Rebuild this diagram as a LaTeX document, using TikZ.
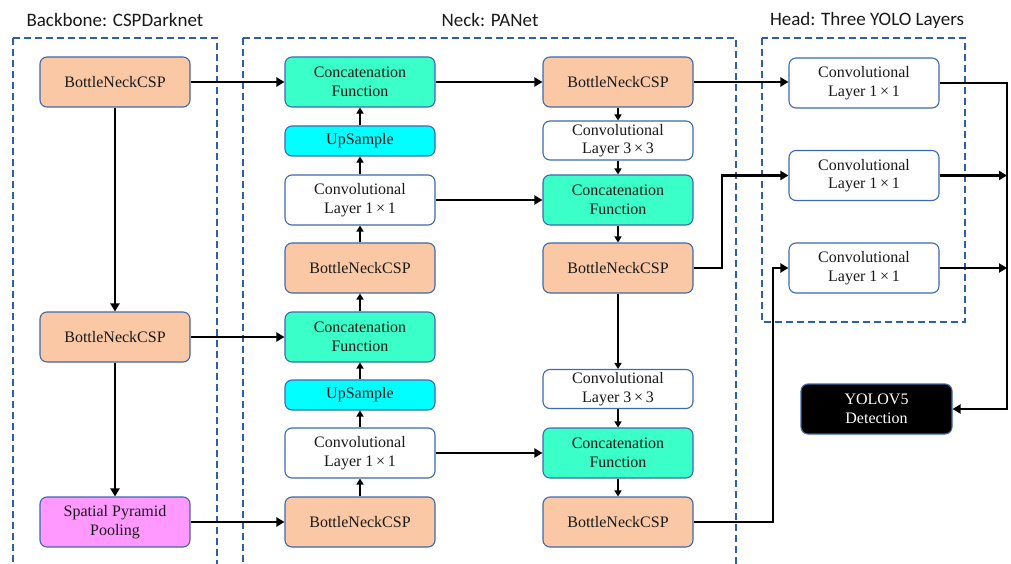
\documentclass[tikz,border=0pt]{standalone}
\usepackage{fontspec}
\setmainfont{Liberation Serif}
\newfontfamily\headfont{Carlito}
\usetikzlibrary{arrows.meta}

\definecolor{peach}{RGB}{250,200,165}
\definecolor{mint}{RGB}{58,255,200}
\definecolor{aqua}{RGB}{0,255,255}
\definecolor{orchid}{RGB}{255,153,255}
\definecolor{edge}{RGB}{60,105,175}
\definecolor{frame}{RGB}{46,95,168}
\definecolor{ink}{RGB}{25,25,25}

\tikzset{
  blk/.style={rounded corners=7pt, draw=edge, line width=1.1pt, minimum width=150pt,
    minimum height=50pt, align=center, inner sep=0pt, text=ink,
    font=\fontsize{16}{18.5}\selectfont},
  bn/.style={blk, fill=peach},
  cat/.style={blk, fill=mint},
  ups/.style={blk, fill=aqua, minimum height=30pt},
  conv/.style={blk, fill=white},
  convsm/.style={blk, fill=white, minimum height=39pt},
  spp/.style={blk, fill=orchid},
  det/.style={blk, fill=black, text=white, minimum width=151pt},
  grp/.style={draw=frame, line width=1.5pt, dash pattern=on 7pt off 4pt},
  ttl/.style={font=\headfont\fontsize{19}{22}\selectfont, text=ink},
  main/.style={line width=2.6pt, -{Triangle[length=8pt,width=9pt]}},
  thin/.style={line width=2pt, -{Triangle[length=6pt,width=7pt]}}
}

\newcommand{\conv}[1]{Convolutional\\Layer #1\,\texttimes\,#1}

\begin{document}
\begin{tikzpicture}[x=1pt,y=-1pt]
\useasboundingbox (0,0) rectangle (1011,564);

% stage frames
\draw[grp] (13,38) -- (217,38) -- (217,570);
\draw[grp] (13,38) -- (13,570);
\draw[grp] (243,38) -- (736,38) -- (736,570);
\draw[grp] (243,38) -- (243,570);
\draw[grp] (762,38) rectangle (965,322);

% stage titles
\node[ttl, anchor=west] (t1) at (23,20) {Backbone: CSPDarknet};
\node[ttl] (t2) at (490,20) {Neck: PANet};
\node[ttl] (t3) at (867,20) {Head: Three YOLO Layers};

% backbone
\node[bn]  (b1) at (115,82)  {BottleNeckCSP};
\node[bn]  (b2) at (115,337) {BottleNeckCSP};
\node[spp] (b3) at (115,522) {Spatial Pyramid\\Pooling};

% neck, upward path
\node[cat]  (n1) at (360,82)  {Concatenation\\Function};
\node[ups]  (n2) at (360,141) {UpSample};
\node[conv] (n3) at (360,200) {\conv{1}};
\node[bn]   (n4) at (360,268) {BottleNeckCSP};
\node[cat]  (n5) at (360,337) {Concatenation\\Function};
\node[ups]  (n6) at (360,395) {UpSample};
\node[conv] (n7) at (360,453) {\conv{1}};
\node[bn]   (n8) at (360,522) {BottleNeckCSP};

% neck, downward path
\node[bn]     (m1) at (618,82)    {BottleNeckCSP};
\node[convsm] (m2) at (618,140.5) {\conv{3}};
\node[cat]    (m3) at (618,200)   {Concatenation\\Function};
\node[bn]     (m4) at (618,268)   {BottleNeckCSP};
\node[convsm] (m5) at (618,389)   {\conv{3}};
\node[cat]    (m6) at (618,453)   {Concatenation\\Function};
\node[bn]     (m7) at (618,522)   {BottleNeckCSP};

% head
\node[conv] (h1) at (864,83)    {\conv{1}};
\node[conv] (h2) at (864,175.5) {\conv{1}};
\node[conv] (h3) at (864,268)   {\conv{1}};
\node[det]  (d)  at (876.5,409) {YOLOV5\\Detection};

% routing points
\coordinate (j1) at (722,268);
\coordinate (j2) at (773,522);
\coordinate (rail) at (1007,409);

% backbone links
\draw[main] (b1) -- (b2);
\draw[main] (b2) -- (b3);
\draw[main] (b1) -- (n1);
\draw[main] (b2) -- (n5);
\draw[main] (b3) -- (n8);

% neck upward chain
\draw[thin] (n8) -- (n7);
\draw[thin] (n7) -- (n6);
\draw[thin] (n6) -- (n5);
\draw[thin] (n5) -- (n4);
\draw[thin] (n4) -- (n3);
\draw[thin] (n3) -- (n2);
\draw[thin] (n2) -- (n1);

% lateral links
\draw[main] (n1) -- (m1);
\draw[main] (n3) -- (m3);
\draw[main] (n7) -- (m6);

% neck downward chain
\draw[thin] (m1) -- (m2);
\draw[thin] (m2) -- (m3);
\draw[thin] (m3) -- (m4);
\draw[thin] (m4) -- (m5);
\draw[thin] (m5) -- (m6);
\draw[thin] (m6) -- (m7);

% into the head
\draw[main] (m1.east) -- (m1.east -| h1.west);
\draw[main] (m4.east) -- (j1) |- (h2.west);
\draw[main] (m7.east) -- (j2) |- (h3.west);

% head outputs to detection
\draw[main] (h1.east) -| (rail) -- (d.east);
\draw[main] (h2.east) -- (h2.east -| rail);
\draw[main] (h3.east) -- (h3.east -| rail);
\end{tikzpicture}
\end{document}
